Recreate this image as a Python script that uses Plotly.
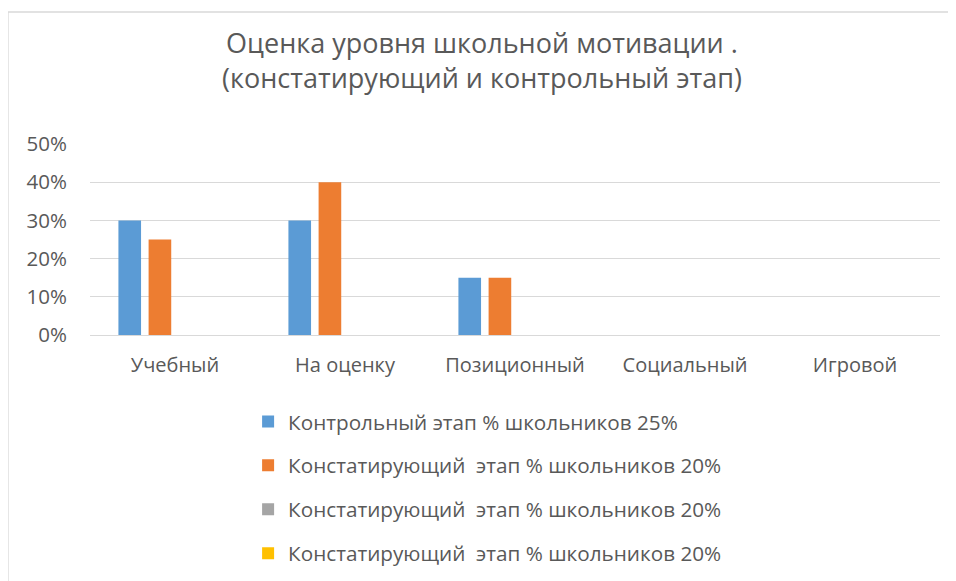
import plotly.graph_objects as go

categories = ["Учебный", "На оценку", "Позиционный", "Социальный", "Игровой"]
series_names = [
    "Контрольный этап % школьников 25%",
    "Констатирующий  этап % школьников 20%",
    "Констатирующий  этап % школьников 20%",
    "Констатирующий  этап % школьников 20%",
]
control = [0.30, 0.30, 0.15, None, None]
ascertain1 = [0.25, 0.40, 0.15, None, None]
ascertain2 = [None, None, None, None, None]
ascertain3 = [None, None, None, None, None]
colors = ["#5b9bd5", "#ed7d31", "#a5a5a5", "#ffc000"]
yticks = [0, 0.1, 0.2, 0.3, 0.4, 0.5]

FONT = "Open Sans"
fig = go.Figure()
for i, (name, vals) in enumerate(zip(series_names, [control, ascertain1, ascertain2, ascertain3])):
    fig.add_trace(go.Bar(x=categories, y=vals, name=name, marker_color=colors[i],
                         marker_line_width=0, legendgroup=f"g{i}"))

H = 620
fig.update_layout(
    width=948, height=H,
    paper_bgcolor="white", plot_bgcolor="white",
    margin=dict(l=82, r=16, t=136, b=H - 136 - 191),
    barmode="group", bargap=0.29, bargroupgap=0.25,
    font=dict(family=FONT, color="#595959"),
    title=dict(text="Оценка уровня школьной мотивации .<br>(констатирующий и контрольный этап)",
               x=0.5, xref="container", xanchor="center", y=1 - 45 / H, yanchor="top",
               font=dict(size=27, color="#595959", family=FONT)),
    showlegend=True,
    legend=dict(orientation="v", x=0.186, xanchor="left", y=-0.348, yanchor="top",
                font=dict(size=20.7, color="#595959", family=FONT),
                tracegroupgap=14, traceorder="grouped", bgcolor="rgba(0,0,0,0)"),
    shapes=[dict(type="rect", xref="paper", yref="paper",
                 x0=-82/850, x1=1 + 60/850, y0=-330/191, y1=1 + 132/191,
                 line=dict(color="#d9d9d9", width=1.3), fillcolor="rgba(0,0,0,0)", layer="below")],
)
fig.update_xaxes(showgrid=False, showline=False, zeroline=False,
                 ticks="outside", ticklen=12, tickcolor="rgba(0,0,0,0)",
                 tickfont=dict(size=20, color="#595959", family=FONT))
fig.update_yaxes(range=[0, 0.5], tickvals=yticks, tickformat=".0%",
                 showgrid=True, gridcolor="#d9d9d9", gridwidth=1.3,
                 zeroline=True, zerolinecolor="#d9d9d9", zerolinewidth=1.3,
                 showline=False, ticks="outside", ticklen=18, tickcolor="rgba(0,0,0,0)",
                 tickfont=dict(size=20.5, color="#595959", family=FONT))
fig.write_html("out.html")
